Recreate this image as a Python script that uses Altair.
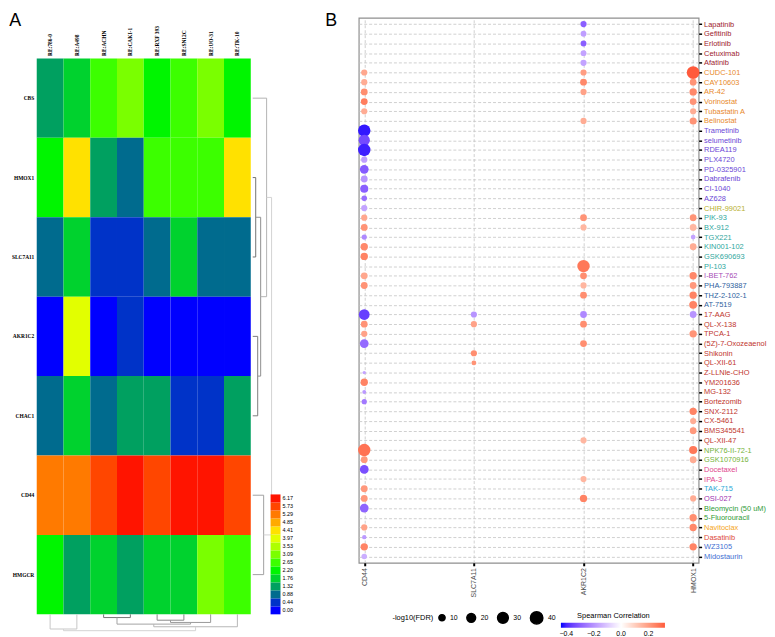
import json
import altair as alt
import pandas as pd

# ---------------- Panel A data ----------------
cell_lines = ["RE:786-0", "RE:A498", "RE:ACHN", "RE:CAKI-1", "RE:RXF 393", "RE:SN12C", "RE:UO-31", "RE:TK-10"]
genes_a = ["CBS", "HMOX1", "SLC7A11", "AKR1C2", "CHAC1", "CD44", "HMGCR"]
expr_CBS = [1.32, 1.76, 2.65, 3.09, 2.20, 2.65, 3.09, 2.20]
expr_HMOX1 = [2.20, 4.41, 1.32, 0.88, 2.65, 2.65, 2.65, 4.41]
expr_SLC7A11 = [0.88, 1.76, 0.44, 0.44, 0.88, 1.76, 0.88, 0.88]
expr_AKR1C2 = [0.00, 3.97, 0.00, 0.44, 0.00, 0.00, 0.00, 0.00]
expr_CHAC1 = [0.88, 1.76, 0.88, 1.32, 1.32, 0.44, 0.44, 1.32]
expr_CD44 = [5.29, 5.29, 5.73, 6.17, 5.73, 6.17, 6.17, 5.73]
expr_HMGCR = [2.20, 1.32, 1.76, 1.32, 1.76, 1.76, 3.09, 2.65]
key_levels = [0.00, 0.44, 0.88, 1.32, 1.76, 2.20, 2.65, 3.09, 3.53, 3.97, 4.41, 4.85, 5.29, 5.73, 6.17]
key_colors = ["#0000FF", "#0033C8", "#006B8E", "#00A060", "#00D22E", "#00F500", "#3CFF00", "#7AFF00",
              "#AEFF00", "#E2FF00", "#FFE100", "#FFAA00", "#FF7A00", "#FF4600", "#FF1400"]
# dendrograms: leaves are numbered in display order, merges continue the numbering
row_merges = [(1, 2, 3), (3, 4, 5), (7, 8, 8), (0, 9, 14), (5, 6, 11), (10, 11, 19)]
col_merges = [(2, 3, 3.3), (4, 5, 6), (9, 6, 8.3), (8, 10, 10), (11, 7, 12.7), (0, 1, 15), (13, 12, 16.7)]

# ---------------- Panel B data ----------------
drugs = ["Lapatinib", "Gefitinib", "Erlotinib", "Cetuximab", "Afatinib", "CUDC-101", "CAY10603", "AR-42",
         "Vorinostat", "Tubastatin A", "Belinostat", "Trametinib", "selumetinib", "RDEA119", "PLX4720",
         "PD-0325901", "Dabrafenib", "CI-1040", "AZ628", "CHIR-99021", "PIK-93", "BX-912", "TGX221",
         "KIN001-102", "GSK690693", "PI-103", "I-BET-762", "PHA-793887", "THZ-2-102-1", "AT-7519", "17-AAG",
         "QL-X-138", "TPCA-1", "(5Z)-7-Oxozeaenol", "Shikonin", "QL-XII-61", "Z-LLNle-CHO", "YM201636",
         "MG-132", "Bortezomib", "SNX-2112", "CX-5461", "BMS345541", "QL-XII-47", "NPK76-II-72-1",
         "GSK1070916", "Docetaxel", "IPA-3", "TAK-715", "OSI-027", "Bleomycin (50 uM)", "5-Fluorouracil",
         "Navitoclax", "Dasatinib", "WZ3105", "Midostaurin"]
genes_b = ["CD44", "SLC7A11", "AKR1C2", "HMOX1"]
N = None
cd44_corr = [N, N, N, N, N, 0.18, 0.17, 0.23, 0.26, 0.17, N, -0.42, -0.34, -0.41, -0.18, -0.31, -0.20, -0.30,
             -0.27, -0.17, 0.18, 0.22, -0.22, 0.24, 0.25, N, 0.18, 0.22, N, N, -0.36, 0.22, 0.19, -0.28, N, N,
             -0.17, 0.25, -0.19, -0.25, N, N, N, N, 0.28, 0.21, -0.33, N, 0.21, 0.21, -0.29, N, 0.19, -0.19,
             0.25, -0.15]
cd44_fdr = [N, N, N, N, N, 10, 10, 12, 12, 10, N, 40, 33, 40, 10, 20, 12, 17, 8, 10, 10, 12, 7, 14, 14, N, 12,
            12, N, N, 30, 12, 10, 20, N, N, 3, 14, 4, 7, N, N, N, N, 40, 12, 20, N, 12, 12, 20, N, 10, 5, 14, 8]
slc7a11_corr = [N] * 30 + [-0.20, 0.19, N, N, 0.23, 0.22] + [N] * 20
slc7a11_fdr = [N] * 30 + [10, 10, N, N, 10, 6] + [N] * 20
akr1c2_corr = [-0.30, -0.18, -0.30, -0.17, -0.17, 0.20, 0.24, 0.19, N, N, 0.17, N, N, N, N, N, N, N, N, N,
               0.22, 0.15, N, N, N, 0.27, 0.23, 0.15, 0.23, N, -0.22, 0.23, N, 0.23, N, N, N, N, N, N,
               N, N, N, 0.15, N, N, N, 0.15, N, 0.25, N, N, N, N, N, N]
akr1c2_fdr = [10, 9, 9, 9, 10, 10, 12, 10, N, N, 10, N, N, N, N, N, N, N, N, N,
              12, 10, N, N, N, 40, 12, 10, 12, N, 12, 12, N, 12, N, N, N, N, N, N,
              N, N, N, 10, N, N, N, 10, N, 14, N, N, N, N, N, N]
hmox1_corr = [N, N, N, N, N, 0.32, 0.22, 0.24, 0.22, 0.17, 0.22, N, N, N, N, N, N, N, N, N,
              0.22, 0.15, -0.17, 0.17, N, N, 0.24, 0.21, 0.25, 0.25, -0.20, N, 0.22, N, N, N, N, N, N, N,
              0.25, 0.17, 0.21, N, 0.27, 0.17, N, N, N, 0.17, N, 0.23, 0.24, N, 0.25, N]
hmox1_fdr = [N, N, N, N, N, 42, 12, 14, 12, 10, 13, N, N, N, N, N, N, N, N, N,
             12, 12, 6, 12, N, N, 14, 12, 14, 16, 12, N, 14, N, N, N, N, N, N, N,
             14, 10, 12, N, 17, 12, N, N, N, 10, N, 14, 14, N, 14, N]
label_groups = [
    (["Lapatinib", "Gefitinib", "Erlotinib", "Cetuximab", "Afatinib"], "#9C1A2E"),
    (["CUDC-101", "CAY10603", "AR-42", "Vorinostat", "Tubastatin A", "Belinostat"], "#E8892B"),
    (["Trametinib", "selumetinib", "RDEA119", "PLX4720", "PD-0325901", "Dabrafenib", "CI-1040", "AZ628"], "#6B46D6"),
    (["CHIR-99021"], "#B8B030"),
    (["PIK-93", "BX-912", "TGX221", "KIN001-102", "GSK690693", "PI-103"], "#2FA79E"),
    (["I-BET-762"], "#A64BB6"),
    (["PHA-793887", "THZ-2-102-1", "AT-7519"], "#2F5F9E"),
    (["17-AAG", "QL-X-138", "TPCA-1", "(5Z)-7-Oxozeaenol", "Shikonin", "QL-XII-61", "Z-LLNle-CHO",
      "YM201636", "MG-132", "Bortezomib", "SNX-2112", "CX-5461", "BMS345541", "QL-XII-47"], "#C0352D"),
    (["NPK76-II-72-1", "GSK1070916"], "#74B33A"),
    (["Docetaxel", "IPA-3"], "#E0468C"),
    (["TAK-715"], "#2BA7D6"),
    (["OSI-027"], "#9D2FB0"),
    (["Bleomycin (50 uM)", "5-Fluorouracil"], "#2E9B35"),
    (["Navitoclax"], "#F5A623"),
    (["Dasatinib"], "#DC4A3A"),
    (["WZ3105", "Midostaurin"], "#3F6FD2"),
]

# ---------------- build tables ----------------
expr_rows = [expr_CBS, expr_HMOX1, expr_SLC7A11, expr_AKR1C2, expr_CHAC1, expr_CD44, expr_HMGCR]
heat_df = pd.DataFrame([
    {"gene": g, "cell": c, "value": v, "lab": f"{v:.2f}"}
    for g, row in zip(genes_a, expr_rows) for c, v in zip(cell_lines, row)
])
level_labels = [f"{v:.2f}" for v in key_levels]
key_df = pd.DataFrame({"lab": level_labels})
heat_scale = alt.Scale(domain=level_labels, range=key_colors)


def dendro_segments(n_leaves, merges):
    pos = {i: i + 0.5 for i in range(n_leaves)}
    hgt = {i: 0.0 for i in range(n_leaves)}
    hmax = max(m[2] for m in merges)
    segs = []
    for k, (a, b, h) in enumerate(merges):
        g = int(95 + 115 * h / hmax)
        shade = "#%02x%02x%02x" % (g, g, g)
        segs.append(dict(h1=hgt[a], h2=h, p1=pos[a], p2=pos[a], shade=shade))
        segs.append(dict(h1=hgt[b], h2=h, p1=pos[b], p2=pos[b], shade=shade))
        segs.append(dict(h1=h, h2=h, p1=pos[a], p2=pos[b], shade=shade))
        nid = n_leaves + k
        pos[nid] = (pos[a] + pos[b]) / 2
        hgt[nid] = h
    return pd.DataFrame(segs)


row_df = dendro_segments(len(genes_a), row_merges)
col_df = dendro_segments(len(cell_lines), col_merges)

recs = []
for gene, cs, fs in [("CD44", cd44_corr, cd44_fdr), ("SLC7A11", slc7a11_corr, slc7a11_fdr),
                     ("AKR1C2", akr1c2_corr, akr1c2_fdr), ("HMOX1", hmox1_corr, hmox1_fdr)]:
    for d, c, f in zip(drugs, cs, fs):
        if c is not None:
            recs.append({"drug": d, "gene": gene, "corr": c, "fdr": f})
dot_df = pd.DataFrame(recs)

label_color = {
    "condition": [
        {"test": "indexof(%s, datum.value) >= 0" % json.dumps(names), "value": col}
        for names, col in label_groups
    ],
    "value": "black",
}

# ---------------- Panel A ----------------
serif = "Liberation Serif"
sans = "Liberation Sans"
HM_TOP, HM_BOT = 41, 602

heat = alt.Chart(heat_df).mark_rect().encode(
    x=alt.X("cell:N", sort=cell_lines, scale=alt.Scale(paddingInner=0, paddingOuter=0),
            axis=alt.Axis(orient="top", offset=-HM_TOP, labelAngle=270, labelFont=serif, labelFontWeight="bold",
                          labelFontSize=5.5, labelColor="black", ticks=False, domain=False, title=None,
                          labelPadding=3)),
    y=alt.Y("gene:N", sort=genes_a, scale=alt.Scale(range=[HM_TOP, HM_BOT], paddingInner=0, paddingOuter=0),
            axis=alt.Axis(orient="left", labelFont=serif, labelFontWeight="bold", labelFontSize=5.5,
                          labelColor="black", ticks=False, domain=False, title=None, labelPadding=3)),
    color=alt.Color("lab:N", scale=heat_scale, legend=None),
)

rowdend = alt.Chart(row_df).mark_rule(strokeWidth=1).encode(
    x=alt.X("h1:Q", scale=alt.Scale(domain=[0, 19], range=[218, 237], nice=False, zero=False), axis=None),
    x2="h2:Q",
    y=alt.Y("p1:Q", scale=alt.Scale(domain=[0, 7], range=[HM_TOP, HM_BOT], nice=False, zero=False), axis=None),
    y2="p2:Q",
    stroke=alt.Stroke("shade:N", scale=None),
)

coldend = alt.Chart(col_df).mark_rule(strokeWidth=1).encode(
    x=alt.X("p1:Q", scale=alt.Scale(domain=[0, 8], range=[0, 216], nice=False, zero=False), axis=None),
    x2="p2:Q",
    y=alt.Y("h1:Q", scale=alt.Scale(domain=[0, 16.7], range=[HM_BOT, HM_BOT + 16.5], nice=False, zero=False),
            axis=None),
    y2="h2:Q",
    stroke=alt.Stroke("shade:N", scale=None),
)

cbar = alt.Chart(key_df).mark_rect().encode(
    y=alt.Y("lab:N", sort=level_labels[::-1],
            scale=alt.Scale(range=[HM_BOT - 121, HM_BOT], paddingInner=0, paddingOuter=0),
            axis=alt.Axis(orient="right", offset=30, ticks=False, domain=False, labelFontSize=5.5,
                          labelFont=sans, labelColor="black", labelPadding=1.5, title=None)),
    x=alt.value(236),
    x2=alt.value(246),
    color=alt.Color("lab:N", scale=heat_scale, legend=None),
)

TITLE_OFFSET = -12
panel_a = alt.layer(heat, rowdend, coldend, cbar).resolve_scale(
    x="independent", y="independent"
).properties(
    width=216, height=550,
    title=alt.TitleParams("A", anchor="start", dx=-2, offset=TITLE_OFFSET, fontSize=18, font=sans,
                          fontWeight="normal", color="black"),
)

# ---------------- Panel B ----------------
grid_kw = dict(grid=True, gridDash=[3, 2], gridColor="#c4c4c4", gridWidth=0.8)
panel_b = alt.Chart(dot_df).mark_circle(opacity=1).encode(
    x=alt.X("gene:N", scale=alt.Scale(type="point", padding=0.05, domain=genes_b),
            axis=alt.Axis(orient="bottom", labelAngle=270, tickColor="black", tickSize=3, tickWidth=2,
                          domain=False, labelFontSize=7, labelColor="#4d4d4d", labelFont=sans, title=None,
                          labelPadding=2, **grid_kw)),
    y=alt.Y("drug:N", scale=alt.Scale(type="point", padding=0.65, domain=drugs),
            axis=alt.Axis(orient="right", tickColor="black", tickSize=3, tickWidth=1.5, domain=False,
                          labelFontSize=7.5, labelFont=sans, labelColor=label_color, title=None,
                          labelPadding=2, **grid_kw)),
    size=alt.Size("fdr:Q", scale=alt.Scale(domain=[0, 42], range=[0, 165]),
                  legend=alt.Legend(title="-log10(FDR)", orient="none", legendX=34, legendY=598,
                                    direction="horizontal", titleOrient="left", values=[10, 20, 30, 40],
                                    symbolFillColor="black", symbolStrokeColor="black", symbolType="circle",
                                    labelFontSize=7, titleFontSize=7.5, titleFontWeight="normal",
                                    titleFont=sans, labelFont=sans, titleColor="black", labelColor="black",
                                    columnPadding=6, titlePadding=4)),
    color=alt.Color("corr:Q",
                    scale=alt.Scale(domain=[-0.44, 0, 0.32], range=["#0000FF", "#FFFFFF", "#FF5A3C"],
                                    interpolate="lab"),
                    legend=alt.Legend(title="Spearman Correlation", orient="none", legendX=204, legendY=600,
                                      direction="horizontal", gradientLength=105, gradientThickness=5,
                                      values=[-0.4, -0.2, 0.0, 0.2], format=".1f", titleAnchor="middle",
                                      labelFontSize=7, titleFontSize=7.5, titleFontWeight="normal",
                                      titleFont=sans, labelFont=sans, titleColor="black",
                                      labelColor="black", titlePadding=3)),
).properties(
    width=343, height=550,
    view=alt.ViewBackground(stroke="#8f8f8f", strokeWidth=1.2),
    title=alt.TitleParams("B", anchor="start", dx=-33, offset=TITLE_OFFSET, fontSize=18, font=sans,
                          fontWeight="normal", color="black"),
)

chart = alt.hconcat(panel_a, panel_b, spacing=109, bounds="flush").resolve_scale(
    color="independent", size="independent"
).properties(padding=0).configure_view(stroke="transparent")

chart.save("out.html", embed_options={"renderer": "svg", "actions": False})
